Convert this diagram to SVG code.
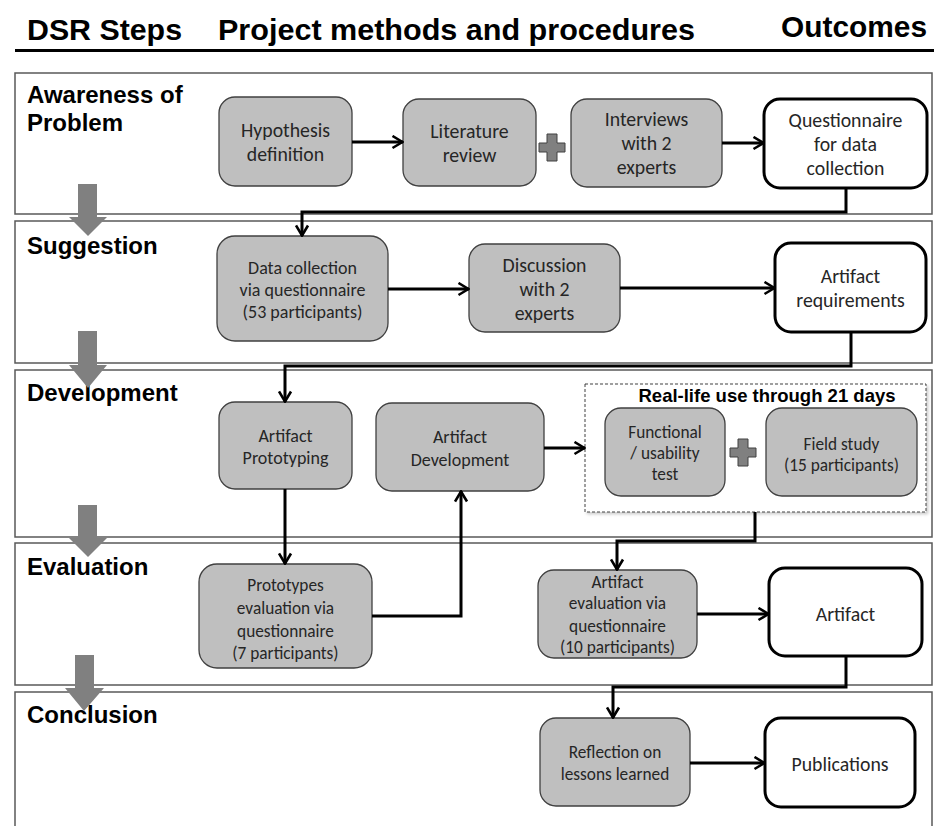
<svg xmlns="http://www.w3.org/2000/svg" width="934" height="826" viewBox="0 0 934 826">
<defs>
<style>
.hdr{font-family:"Liberation Sans",Arial,sans-serif;font-weight:bold;font-size:30px;fill:#000}
.lbl{font-family:"Liberation Sans",Arial,sans-serif;font-weight:bold;font-size:24px;fill:#000}
.lane{fill:#fff;stroke:#595959;stroke-width:1.5}
.proc{fill:#bfbfbf;stroke:#404040;stroke-width:1.3}
.out{fill:#fff;stroke:#000;stroke-width:3}
.t{font-family:Carlito,Lato,"Open Sans",sans-serif;fill:#262626;text-anchor:middle}
.big{font-size:19.8px}
.sm{font-size:18px}
.xs{font-size:17.3px}
.con{fill:none;stroke:#000;stroke-width:3;marker-end:url(#ah)}
.gar{fill:#808080}
.plus{fill:#808080;stroke:#404040;stroke-width:1}
</style>
<marker id="ah" viewBox="0 0 13 15" refX="12" refY="7.5" markerWidth="13" markerHeight="15" markerUnits="userSpaceOnUse" orient="auto">
<path d="M1.5,1.5 L11.5,7.5 L1.5,13.5" fill="none" stroke="#000" stroke-width="2.6"/>
</marker>
<filter id="sh" x="-5%" y="-5%" width="112%" height="115%">
<feDropShadow dx="2" dy="2" stdDeviation="1.5" flood-color="#000" flood-opacity="0.2"/>
</filter>
</defs>

<g id="header">
<text class="hdr" x="27" y="40" textLength="155" lengthAdjust="spacingAndGlyphs">DSR Steps</text>
<text class="hdr" x="218" y="40" textLength="477" lengthAdjust="spacingAndGlyphs">Project methods and procedures</text>
<text class="hdr" x="781" y="37" textLength="146" lengthAdjust="spacingAndGlyphs">Outcomes</text>
<rect x="15" y="49" width="919" height="3" fill="#000"/>
</g>

<g id="lanes">
<g id="lane-awareness"><rect class="lane" x="15" y="73" width="917" height="141"/>
<text class="lbl" x="27" y="103">Awareness of</text><text class="lbl" x="27" y="131">Problem</text></g>
<g id="lane-suggestion"><rect class="lane" x="15" y="221" width="917" height="142"/>
<text class="lbl" x="27" y="254">Suggestion</text></g>
<g id="lane-development"><rect class="lane" x="15" y="370" width="917" height="167"/>
<text class="lbl" x="27" y="401">Development</text></g>
<g id="lane-evaluation"><rect class="lane" x="15" y="543" width="917" height="142"/>
<text class="lbl" x="27" y="575">Evaluation</text></g>
<g id="lane-conclusion"><rect class="lane" x="15" y="692" width="917" height="140"/>
<text class="lbl" x="27" y="723">Conclusion</text></g>
</g>

<g id="step-arrows">
<path class="gar" d="M78,184 H97 V217 H107 L88,236 L69,217 H78 Z"/>
<path class="gar" d="M78,331 H97 V365 H107 L88,388 L69,365 H78 Z"/>
<path class="gar" d="M78,505 H97 V538 H107 L88,557 L69,538 H78 Z"/>
<path class="gar" d="M75,655 H94 V688 H104 L84,711 L65,688 H75 Z"/>
</g>

<g id="real-life-box">
<rect x="585" y="384" width="341" height="128" fill="#fff" stroke="#404040" stroke-width="1" stroke-dasharray="3,2" filter="url(#sh)"/>
<text x="767" y="402" font-family="Liberation Sans,Arial,sans-serif" font-weight="bold" font-size="18.5" text-anchor="middle" fill="#000">Real-life use through 21 days</text>
</g>

<g id="hypothesis"><rect class="proc" x="219" y="97" width="133" height="89" rx="16"/>
<text class="t big" x="285.5" y="137">Hypothesis</text><text class="t big" x="285.5" y="161">definition</text></g>
<g id="literature"><rect class="proc" x="403" y="99" width="133" height="87" rx="16"/>
<text class="t big" x="469.5" y="138">Literature</text><text class="t big" x="469.5" y="162">review</text></g>
<g id="plus1"><path class="plus" d="M547,134 H557 V143 H565 V152 H557 V161 H547 V152 H539 V143 H547 Z"/></g>
<g id="interviews"><rect class="proc" x="571" y="99" width="151" height="88" rx="16"/>
<text class="t big" x="646.5" y="126">Interviews</text><text class="t big" x="646.5" y="150">with 2</text><text class="t big" x="646.5" y="174">experts</text></g>
<g id="questionnaire"><rect class="out" x="764" y="99" width="163" height="89" rx="16"/>
<text class="t big" x="845.5" y="127">Questionnaire</text><text class="t big" x="845.5" y="151">for data</text><text class="t big" x="845.5" y="175">collection</text></g>

<g id="data-collection"><rect class="proc" x="217" y="236" width="171" height="105" rx="18"/>
<text class="t sm" x="302.5" y="274">Data collection</text><text class="t sm" x="302.5" y="296">via questionnaire</text><text class="t sm" x="302.5" y="318">(53 participants)</text></g>
<g id="discussion"><rect class="proc" x="469" y="244" width="151" height="88" rx="16"/>
<text class="t big" x="544.5" y="272">Discussion</text><text class="t big" x="544.5" y="296">with 2</text><text class="t big" x="544.5" y="320">experts</text></g>
<g id="requirements"><rect class="out" x="775" y="243" width="151" height="89" rx="16"/>
<text class="t big" x="850.5" y="283">Artifact</text><text class="t big" x="850.5" y="307">requirements</text></g>

<g id="prototyping"><rect class="proc" x="219" y="402" width="133" height="87" rx="16"/>
<text class="t sm" x="285.5" y="442">Artifact</text><text class="t sm" x="285.5" y="464">Prototyping</text></g>
<g id="development"><rect class="proc" x="376" y="403" width="168" height="88" rx="16"/>
<text class="t sm" x="460" y="443">Artifact</text><text class="t sm" x="460" y="466">Development</text></g>
<g id="functional"><rect class="proc" x="605" y="408" width="120" height="88" rx="16"/>
<text class="t xs" x="665" y="438">Functional</text><text class="t xs" x="665" y="459">/ usability</text><text class="t xs" x="665" y="480">test</text></g>
<g id="plus2"><path class="plus" d="M738,439 H748 V448 H756 V457 H748 V466 H738 V457 H730 V448 H738 Z"/></g>
<g id="field-study"><rect class="proc" x="766" y="408" width="151" height="88" rx="16"/>
<text class="t xs" x="841.5" y="450">Field study</text><text class="t xs" x="841.5" y="471">(15 participants)</text></g>

<g id="prototypes-eval"><rect class="proc" x="199" y="564" width="173" height="104" rx="18"/>
<text class="t xs" x="285.5" y="591">Prototypes</text><text class="t xs" x="285.5" y="614">evaluation via</text><text class="t xs" x="285.5" y="637">questionnaire</text><text class="t xs" x="285.5" y="659">(7 participants)</text></g>
<g id="artifact-eval"><rect class="proc" x="538" y="570" width="159" height="88" rx="16"/>
<text class="t xs" x="617.5" y="588">Artifact</text><text class="t xs" x="617.5" y="609">evaluation via</text><text class="t xs" x="617.5" y="632">questionnaire</text><text class="t xs" x="617.5" y="653">(10 participants)</text></g>
<g id="artifact"><rect class="out" x="769" y="568" width="153" height="88" rx="16"/>
<text class="t big" x="845.5" y="621">Artifact</text></g>

<g id="reflection"><rect class="proc" x="540" y="718" width="150" height="88" rx="16"/>
<text class="t xs" x="615" y="758">Reflection on</text><text class="t xs" x="615" y="780">lessons learned</text></g>
<g id="publications"><rect class="out" x="765" y="718" width="150" height="89" rx="16"/>
<text class="t big" x="840" y="771">Publications</text></g>

<g id="connectors">
<path class="con" d="M352,142 H403"/>
<path class="con" d="M722,143 H764"/>
<path class="con" d="M846,188 V212 H302 V236"/>
<path class="con" d="M388,289 H469"/>
<path class="con" d="M620,288 H775"/>
<path class="con" d="M851,332 V366 H285 V402"/>
<path class="con" d="M544,448 H585"/>
<path class="con" d="M285,489 V564"/>
<path class="con" d="M372,616 H461 V491"/>
<path class="con" d="M755,512 V541 H617 V570"/>
<path class="con" d="M697,614 H769"/>
<path class="con" d="M846,656 V687 H613 V718"/>
<path class="con" d="M690,763 H765"/>
</g>
</svg>
